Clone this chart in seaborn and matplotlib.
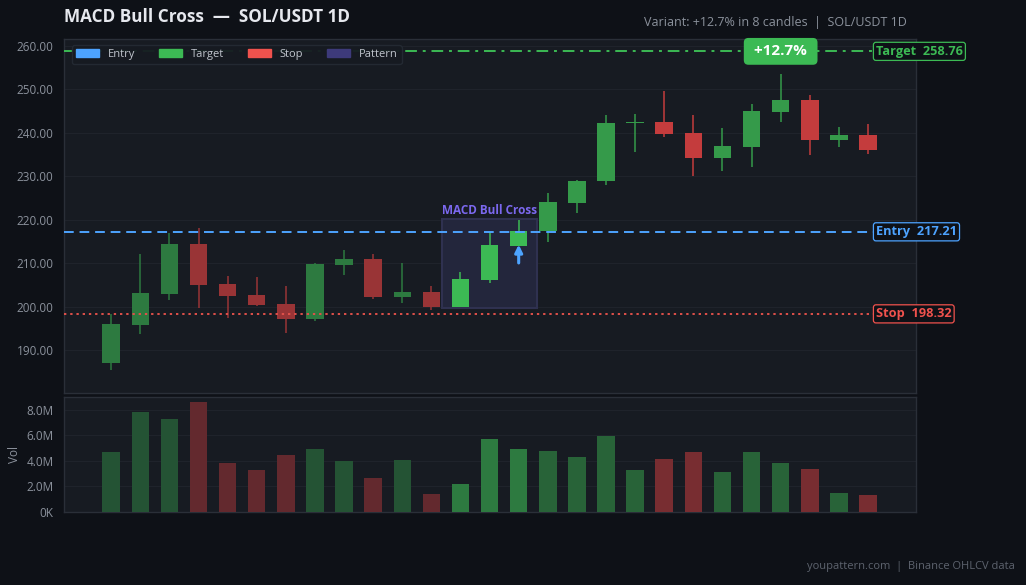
import numpy as np
import pandas as pd
import matplotlib
matplotlib.use("Agg")
import matplotlib.pyplot as plt
import matplotlib.patches as mpatches
import matplotlib.transforms as mtransforms
import seaborn as sns

# ---------------- data ----------------
opens  = [187.1, 195.8, 203.0, 214.4, 205.2, 202.7, 200.6, 197.2, 209.6, 211.0, 202.2, 203.4, 199.9,
          206.1, 214.0, 217.3, 223.9, 228.8, 242.2, 242.5, 240.0, 234.3, 236.8, 244.9, 247.6, 238.4, 239.5]
highs  = [198.3, 212.1, 217.0, 218.1, 207.0, 206.8, 204.7, 210.0, 213.0, 212.1, 210.0, 204.7, 208.0,
          217.2, 219.9, 226.2, 229.1, 244.1, 244.3, 249.6, 244.1, 241.1, 246.6, 253.6, 248.7, 241.3, 242.0]
lows   = [185.4, 193.7, 201.6, 199.7, 197.4, 200.1, 194.0, 196.7, 207.3, 201.7, 200.9, 199.2, 199.9,
          205.5, 214.0, 214.9, 221.6, 228.0, 235.6, 239.1, 230.1, 231.3, 232.2, 242.6, 235.0, 236.8, 235.2]
closes = [196.0, 203.1, 214.4, 205.0, 202.5, 200.4, 197.2, 209.8, 211.0, 202.2, 203.4, 199.9, 206.4,
          214.2, 217.4, 224.1, 228.9, 242.3, 242.5, 239.8, 234.3, 237.0, 245.0, 247.6, 238.4, 239.5, 236.1]
volumes = [4.73, 7.79, 7.24, 8.57, 3.87, 3.32, 4.42, 4.89, 4.02, 2.69, 4.10, 1.44, 2.22,
           5.75, 4.96, 4.81, 4.34, 5.91, 3.32, 4.18, 4.73, 3.16, 4.73, 3.87, 3.40, 1.51, 1.36]  # millions
pattern_idx = [12, 13, 14]
entry, target, stop = 217.21, 258.76, 198.32
pattern_name = "MACD Bull Cross"
title = "MACD Bull Cross  —  SOL/USDT 1D"
subtitle = "Variant: +12.7% in 8 candles  |  SOL/USDT 1D"
badge = "+12.7%"
badge_idx = 23
footer = "youpattern.com  |  Binance OHLCV data"
price_ticks = [190, 200, 210, 220, 230, 240, 250, 260]
vol_ticks = [0, 2, 4, 6, 8]
vol_tick_labels = ["0K", "2.0M", "4.0M", "6.0M", "8.0M"]

# ---------------- style ----------------
BG = "#0e1117"
AX = "#171b22"
GRID = "#1f232b"
SPINE = "#2a2f38"
TXT = "#8b919c"
GREEN = "#3cba54"
RED = "#ef4444"
BLUE = "#4da3ff"
PURPLE = "#7b68ee"
PAT = "#3d3a7a"

sns.set_theme(style="dark")
plt.rcParams["font.family"] = ["Open Sans", "DejaVu Sans"]

n = len(opens)
x = np.arange(n)
df = pd.DataFrame({"x": x, "open": opens, "high": highs, "low": lows, "close": closes,
                   "vol": np.array(volumes) * 1e6})
df["up"] = df["close"] >= df["open"]
def phase(i):
    if i in pattern_idx:
        return "pat"
    return "pre" if i < pattern_idx[0] else "post"
df["phase"] = [phase(i) for i in x]

def blend(hexc, a, bg=AX):
    c = np.array(matplotlib.colors.to_rgb(hexc))
    b = np.array(matplotlib.colors.to_rgb(bg))
    return matplotlib.colors.to_hex(b + a * (c - b))

candle_alpha = {"pre": 0.6, "pat": 1.0, "post": 0.8}
vol_alpha = {"pre": 0.35, "pat": 0.6, "post": 0.45}

fig = plt.figure(figsize=(10.26, 5.85), dpi=100, facecolor=BG)
ax = fig.add_axes([0.0624, 0.3282, 0.8304, 0.6051])
axv = fig.add_axes([0.0624, 0.1248, 0.8304, 0.1966])
for a in (ax, axv):
    a.set_facecolor(AX)
    for s in a.spines.values():
        s.set_color(SPINE)
        s.set_linewidth(1)
    a.grid(axis="y", color=GRID, linewidth=0.8)
    a.grid(axis="x", visible=False)
    a.tick_params(colors=TXT, labelsize=8.5, length=4, color="#7a808a")
    a.set_axisbelow(True)

# candles
for _, r in df.iterrows():
    base = GREEN if r["up"] else RED
    col = blend(base, candle_alpha[r["phase"]])
    ax.vlines(r["x"], r["low"], r["high"], color=col, linewidth=1.1, zorder=2)
    lo, hi = min(r["open"], r["close"]), max(r["open"], r["close"])
    ax.bar(r["x"], max(hi - lo, 0.35), bottom=lo, width=0.6, color=col, zorder=3, linewidth=0)

# pattern box
p_lo = min(lows[i] for i in pattern_idx) - 0.3
p_hi = max(highs[i] for i in pattern_idx) + 0.2
bw = pattern_idx[-1] - pattern_idx[0] + 1.24
ax.add_patch(mpatches.Rectangle((pattern_idx[0] - 0.62, p_lo), bw, p_hi - p_lo,
                                facecolor="#23263c", edgecolor="#2f3150", linewidth=1.5, zorder=1))
ax.text(np.mean(pattern_idx), p_hi + 0.5, pattern_name, color=PURPLE, fontsize=8.5,
        fontweight="bold", ha="center", va="bottom", zorder=5)

# arrow
ai = pattern_idx[-1]
ax.annotate("", xy=(ai, opens[ai] + 0.9), xytext=(ai, opens[ai] - 4.6),
            arrowprops=dict(arrowstyle="-|>", color=BLUE, lw=2.2, mutation_scale=11), zorder=6)

# level lines
ax.axhline(entry, color=BLUE, linestyle=(0, (5, 3)), linewidth=1.4, zorder=4)
ax.axhline(stop, color="#e0504a", linestyle=(0, (1.2, 2)), linewidth=1.4, zorder=4)
ax.axhline(target, color=GREEN, linestyle=(0, (6, 3, 1.5, 3)), linewidth=1.4, zorder=4)

trans = mtransforms.blended_transform_factory(ax.transAxes, ax.transData)
for lvl, lab, col in [(target, "Target  %.2f" % target, GREEN),
                      (entry, "Entry  %.2f" % entry, BLUE),
                      (stop, "Stop  %.2f" % stop, "#f0524d")]:
    ax.text(0.953, lvl, lab, transform=trans, color=col, fontsize=9.2, fontweight="bold",
            ha="left", va="center", zorder=7, clip_on=False,
            bbox=dict(boxstyle="round,pad=0.2,rounding_size=0.2", facecolor=BG, edgecolor=col, linewidth=0.9))

# badge
ax.text(badge_idx, target, " " + badge + " ", color="white", fontsize=11, fontweight="bold", ha="center",
        va="center", zorder=8,
        bbox=dict(boxstyle="round,pad=0.42,rounding_size=0.3", facecolor=GREEN, edgecolor="none"))

ax.set_xlim(-1.62, n - 1 + 1.65)
ax.set_ylim(180.1, 261.6)
ax.set_yticks(price_ticks)
ax.set_yticklabels(["%.2f" % t for t in price_ticks])
ax.set_xticks(x[::3])
ax.set_xticklabels([])

handles = [mpatches.Patch(color=BLUE, label="Entry"), mpatches.Patch(color=GREEN, label="Target"),
           mpatches.Patch(color="#f0524d", label="Stop"), mpatches.Patch(color=PAT, label="Pattern")]
leg = ax.legend(handles=handles, loc="upper left", ncol=4, fontsize=8, frameon=True,
                facecolor="#161a21", edgecolor="#242a33", labelcolor="#c0c5cd",
                handlelength=2.1, handleheight=0.7, handletextpad=0.8, columnspacing=2.1,
                borderpad=0.35, bbox_to_anchor=(0.003, 0.998), framealpha=0.95)
leg.set_zorder(9)

# volume
vcol = {}
for _, r in df.iterrows():
    base = GREEN if r["up"] else RED
    key = r["phase"] + ("_up" if r["up"] else "_dn")
    vcol[key] = blend(base, vol_alpha[r["phase"]])
df["vkey"] = [p + ("_up" if u else "_dn") for p, u in zip(df["phase"], df["up"])]
sns.barplot(data=df, x="x", y="vol", hue="vkey", palette=vcol, native_scale=True, width=0.6,
            dodge=False, legend=False, ax=axv, saturation=1, linewidth=0, zorder=3)
axv.set_xlim(-1.62, n - 1 + 1.65)
axv.set_ylim(0, max(volumes) * 1.05e6)
axv.set_yticks(np.array(vol_ticks) * 1e6)
axv.set_yticklabels(vol_tick_labels)
axv.set_xticks(x[::3])
axv.set_xticklabels([])
axv.set_xlabel("")
axv.set_ylabel("Vol", color=TXT, fontsize=8.5)
axv.grid(axis="y", color=GRID, linewidth=0.8)

fig.text(0.0624, 0.971, title, color="#e6e8ee", fontsize=12.3, fontweight="bold", ha="left", va="center")
fig.text(0.884, 0.961, subtitle, color=TXT, fontsize=9, ha="right", va="center")
fig.text(0.989, 0.031, footer, color="#5d636e", fontsize=8, ha="right", va="center")

fig.savefig("out.png", dpi=100, facecolor=BG)
